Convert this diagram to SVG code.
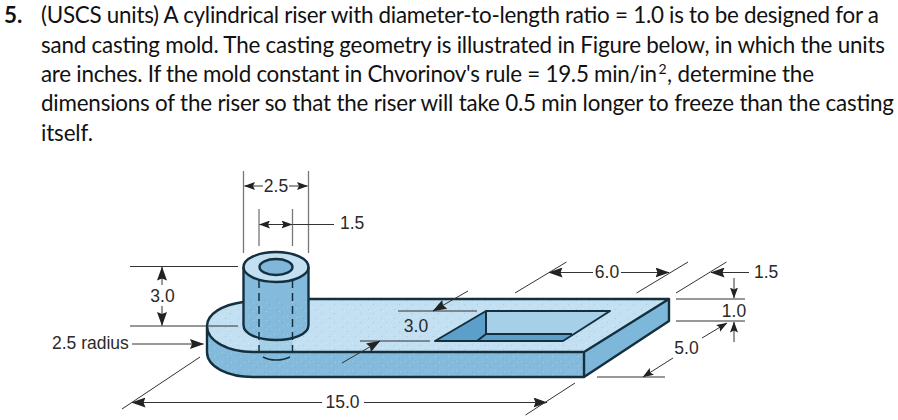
<svg xmlns="http://www.w3.org/2000/svg" width="898" height="420" viewBox="0 0 898 420">
<defs>
<marker id="a" viewBox="0 0 14 10" refX="13.500" refY="5" markerWidth="14" markerHeight="10" markerUnits="userSpaceOnUse" orient="auto"><path d="M0 0L14 5L0 10L2 5Z" fill="#222"/></marker>
<marker id="s" viewBox="0 0 11 8" refX="10.500" refY="4" markerWidth="11" markerHeight="8" markerUnits="userSpaceOnUse" orient="auto"><path d="M0 0L11 4L0 8L2 4Z" fill="#222"/></marker>
<pattern id="dots" width="13" height="9" patternUnits="userSpaceOnUse"><path d="M1 1h1v1h-1zM6 5h1v1h-1zM10 2h1v1h-1z" fill="#fff" opacity=".25"/><path d="M4 3h1v1h-1zM9 7h1v1h-1z" fill="#3f7fae" opacity=".22"/></pattern>
</defs>
<style>
.q{font-family:Lato,"Open Sans",sans-serif;font-size:22.4px;fill:#111}
.b{font-weight:700}
.sup{font-size:14px}
.l{font-family:"Liberation Sans",Arial,sans-serif;font-size:17.500px;fill:#2a2a2a}
.o{stroke:#14303f;stroke-width:2.4;stroke-linejoin:round;fill:none}
.top{fill:#c2e0f1}.front{fill:#84bbdd}.d{stroke:#333;stroke-width:1;fill:none}
.g{stroke:#777;stroke-width:1.3;fill:none}
.h{stroke:#14303f;stroke-width:1.5;stroke-dasharray:8 5;fill:none}
</style>
<g id="question">
<text class="q b" x="4" y="23">5.</text>
<text class="q" x="41" y="23" textLength="838">(USCS units) A cylindrical riser with diameter-to-length ratio = 1.0 is to be designed for a</text>
<text class="q" x="41" y="53" textLength="844">sand casting mold. The casting geometry is illustrated in Figure below, in which the units</text>
<text class="q" x="41" y="82" textLength="616">are inches. If the mold constant in Chvorinov's rule = 19.5 min/in</text>
<text class="q sup" x="658.500" y="74">2</text>
<text class="q" x="667" y="82" textLength="147">, determine the</text>
<text class="q" x="41" y="111" textLength="853">dimensions of the riser so that the riser will take 0.5 min longer to freeze than the casting</text>
<text class="q" x="41" y="141" textLength="52">itself.</text>
</g>
<g id="plate">
<path class="front" d="M207 326V352C207 367 228 377 253 377H584V352H253C228 352 207 341 207 326Z"/>
<path class="top" d="M243 302C222 305 207 314 207 326C207 341 228 352 253 352H584L669 299H300Z"/>
<path fill="#a5cfe6" d="M259 338H292.500V352H259Z"/>
<path fill="#7db8da" d="M584 352L669 299V321L584 377Z"/>
<path fill="url(#dots)" d="M207 326V352C207 367 228 377 253 377H584V352L669 299H300L243 302C222 305 207 314 207 326Z"/>
<path class="o" d="M243 302C222 305 207 314 207 326C207 341 228 352 253 352H584L669 299H308M207 326V352C207 367 228 377 253 377H584V352M584 377L669 321V299"/>
</g>
<g id="pocket">
<path fill="#a6cfe8" d="M486 311H610L572 334H486Z"/>
<path fill="#5d9fcb" d="M486 311V334L477 341H435Z"/>
<path fill="#5d9fcb" d="M486 334H572L563 341H477Z"/>
<path class="o" style="stroke-width:2" d="M435 341L486 311H610L563 341H435ZM486 311V334H572M486 334L477 341"/>
</g>
<g id="riser">
<path class="front" d="M243.500 267V325C243.500 334 258 340 276 340C294 340 308.500 334 308.500 325V267Z"/>
<path fill="url(#dots)" d="M243.500 300V325C243.500 334 258 340 276 340C294 340 308.500 334 308.500 325V300Z"/>
<ellipse class="top" cx="276" cy="267" rx="32.500" ry="15"/>
<ellipse cx="276" cy="267" rx="16.500" ry="8" fill="#7fb6da"/>
<path class="o" d="M243.500 267V325C243.500 334 258 340 276 340C294 340 308.500 334 308.500 325V267"/>
<ellipse class="o" cx="276" cy="267" rx="32.500" ry="15"/>
<ellipse class="o" cx="276" cy="267" rx="16.500" ry="8"/>
<path class="h" d="M259 280V352M292.500 280V352"/>
<path class="h" style="stroke-dasharray:none" d="M263 357C270 361 282 361 290 357"/>
</g>
<g id="connectors">
<path class="g" d="M243.500 171V253M308.500 171V253M259 209V246M292.500 209V246"/>
<path class="d" d="M263 186H244.500" marker-end="url(#s)"/>
<path class="d" d="M289 186H307.500" marker-end="url(#s)"/>
<path class="d" d="M276 224.500H259.500" marker-end="url(#s)"/>
<path class="d" d="M276 224.500H292" marker-end="url(#s)"/>
<path class="d" d="M292.500 224.500H334"/>
<path class="d" d="M130 266.500H238M130 326H238"/>
<path class="d" d="M162 285V267" marker-end="url(#a)"/>
<path class="d" d="M162 306V325.500" marker-end="url(#a)"/>
<path class="d" d="M132 344H203.500" marker-end="url(#a)"/>
<path class="d" d="M200 357L122 409"/>
<path class="d" d="M322 402.500H132" marker-end="url(#a)"/>
<path class="d" d="M364 402.500H547" marker-end="url(#a)"/>
<path class="d" d="M525.500 415L575 383"/>
<path class="d" d="M360 341H430"/>
<path class="d" d="M342 363L380 341" marker-end="url(#a)"/>
<path class="d" d="M398 311H477"/>
<path class="d" d="M468 291L433 311" marker-end="url(#a)"/>
<path class="d" d="M515 293L566.500 262M636.500 293L688 262M676 293L726.500 262"/>
<path class="d" d="M593 272.500H549" marker-end="url(#a)"/>
<path class="d" d="M621 272.500H669" marker-end="url(#a)"/>
<path class="d" d="M749 272.500H711" marker-end="url(#a)"/>
<path class="d" d="M676 299H745M676 321H745"/>
<path class="d" d="M734 278V298" marker-end="url(#s)"/>
<path class="d" d="M734 342V322" marker-end="url(#s)"/>
<path class="d" d="M702 338L727 323" marker-end="url(#s)"/>
<path class="d" d="M673 358L643 377" marker-end="url(#s)"/>
<path class="d" d="M597 377H665"/>
</g>
<g id="labels">
<text class="l" x="276" y="192" text-anchor="middle">2.5</text>
<text class="l" x="340" y="229">1.5</text>
<text class="l" x="162.500" y="302" text-anchor="middle">3.0</text>
<text class="l" x="52" y="349">2.5 radius</text>
<text class="l" x="342.500" y="408" text-anchor="middle">15.0</text>
<text class="l" x="416" y="332" text-anchor="middle">3.0</text>
<text class="l" x="607" y="278" text-anchor="middle">6.0</text>
<text class="l" x="754" y="278">1.5</text>
<text class="l" x="734" y="317" text-anchor="middle">1.0</text>
<text class="l" x="686.500" y="354" text-anchor="middle">5.0</text>
</g>
</svg>
